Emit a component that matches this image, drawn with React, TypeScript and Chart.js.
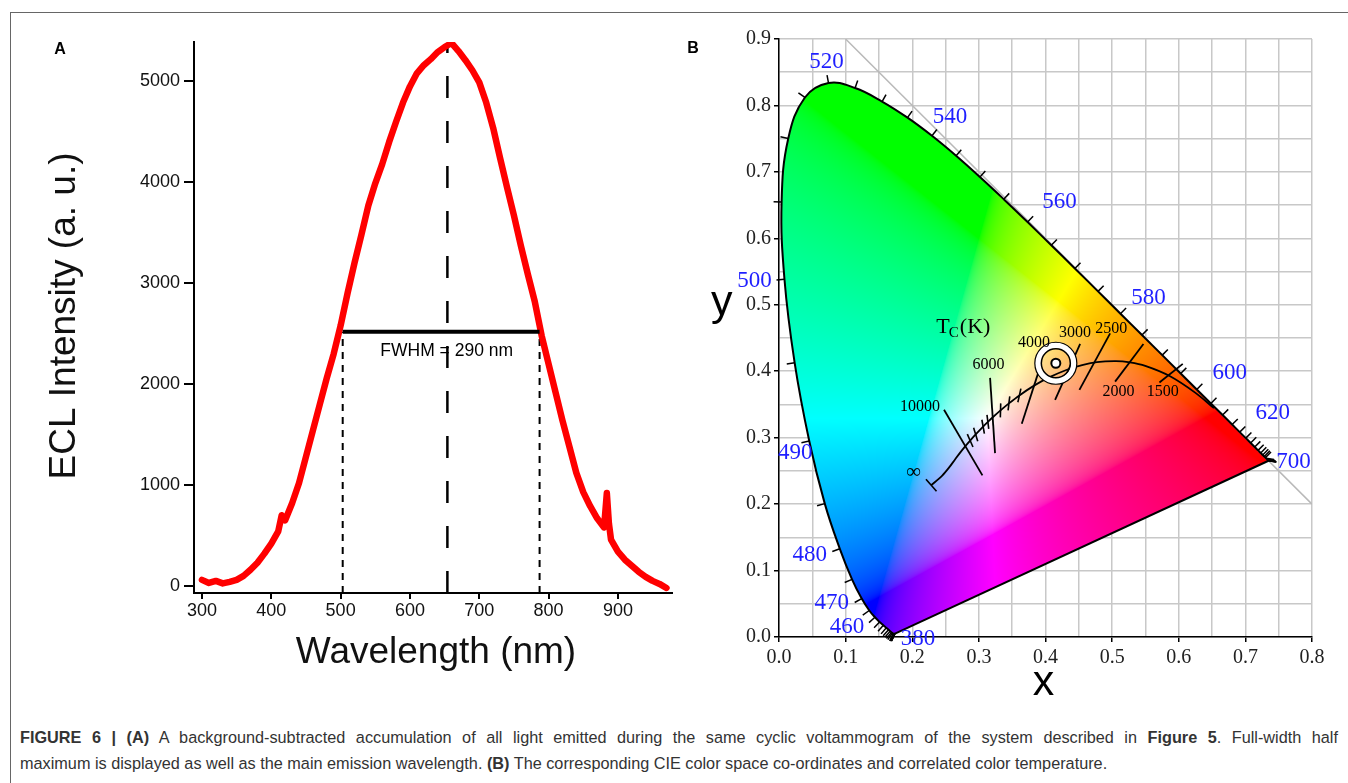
import React, { useEffect, useRef } from 'react';
import { Chart, registerables } from 'chart.js';

Chart.register(...registerables);

// ---------------- Panel A data ----------------
const wavelengthNm = [300, 310, 320, 330, 340, 350, 360, 370, 380, 390, 400, 410, 415, 420, 430, 440, 450, 460, 470, 480, 490, 500, 510, 520, 530, 540, 550, 560, 570, 580, 590, 600, 610, 620, 630, 640, 650, 660, 670, 680, 690, 700, 710, 720, 730, 740, 750, 760, 770, 780, 790, 800, 810, 820, 830, 840, 850, 860, 870, 880, 884, 887, 890, 900, 910, 920, 930, 940, 950, 960, 970];
const eclIntensity = [60, 30, 50, 25, 40, 60, 100, 160, 230, 320, 420, 540, 700, 650, 820, 1020, 1280, 1540, 1800, 2060, 2300, 2580, 2900, 3200, 3480, 3770, 3990, 4180, 4400, 4600, 4790, 4950, 5080, 5160, 5220, 5290, 5340, 5380, 5300, 5210, 5110, 4990, 4790, 4540, 4240, 3950, 3670, 3370, 3090, 2820, 2480, 2200, 1920, 1640, 1380, 1120, 930, 790, 670, 580, 920, 620, 460, 340, 260, 200, 140, 90, 50, 20, -20];
const aXTicks = [300, 400, 500, 600, 700, 800, 900];
const aYTicks = [0, 1000, 2000, 3000, 4000, 5000];
const fwhmBoundsNm = [503, 787];
const halfMaxValue = 2520;
const peakNm = 654;
const peakLineTop = 5356;
const fwhmLabel = 'FWHM = 290 nm';
const fwhmLabelAt = [653, 2330];
const aXRange = [288.5, 978];
const aYRange = [-70, 5390];
const aXTitle = 'Wavelength (nm)';
const aYTitle = 'ECL Intensity (a. u.)';

// ---------------- Panel B data ----------------
const locusNm = [380, 385, 390, 395, 400, 405, 410, 415, 420, 425, 430, 435, 440, 445, 450, 455, 460, 465, 470, 475, 480, 485, 490, 495, 500, 505, 510, 515, 520, 525, 530, 535, 540, 545, 550, 555, 560, 565, 570, 575, 580, 585, 590, 595, 600, 605, 610, 615, 620, 625, 630, 635, 640, 645, 650, 655, 660, 665, 670, 675, 680, 685, 690, 695, 700];
const locusX = [0.1741, 0.1740, 0.1738, 0.1736, 0.1733, 0.1730, 0.1726, 0.1721, 0.1714, 0.1703, 0.1689, 0.1669, 0.1644, 0.1611, 0.1566, 0.1510, 0.1440, 0.1355, 0.1241, 0.1096, 0.0913, 0.0687, 0.0454, 0.0235, 0.0082, 0.0039, 0.0139, 0.0389, 0.0743, 0.1142, 0.1547, 0.1929, 0.2296, 0.2658, 0.3016, 0.3373, 0.3731, 0.4087, 0.4441, 0.4788, 0.5125, 0.5448, 0.5752, 0.6029, 0.6270, 0.6482, 0.6658, 0.6801, 0.6915, 0.7006, 0.7079, 0.7140, 0.7190, 0.7230, 0.7260, 0.7283, 0.7300, 0.7311, 0.7320, 0.7327, 0.7334, 0.7340, 0.7344, 0.7346, 0.7347];
const locusY = [0.0050, 0.0050, 0.0049, 0.0049, 0.0048, 0.0048, 0.0048, 0.0048, 0.0051, 0.0058, 0.0069, 0.0086, 0.0109, 0.0138, 0.0177, 0.0227, 0.0297, 0.0399, 0.0578, 0.0868, 0.1327, 0.2007, 0.2950, 0.4127, 0.5384, 0.6548, 0.7502, 0.8120, 0.8338, 0.8262, 0.8059, 0.7816, 0.7543, 0.7243, 0.6923, 0.6589, 0.6245, 0.5896, 0.5547, 0.5202, 0.4866, 0.4544, 0.4242, 0.3965, 0.3725, 0.3514, 0.3340, 0.3197, 0.3083, 0.2993, 0.2920, 0.2859, 0.2809, 0.2770, 0.2740, 0.2717, 0.2700, 0.2689, 0.2680, 0.2673, 0.2666, 0.2660, 0.2656, 0.2654, 0.2653];
const locusLabelNm = [380, 460, 470, 480, 490, 500, 520, 540, 560, 580, 600, 620, 700];
// label placement (pixel offset of label centre from its locus point) – styling only
const locusLabelOffset = [[23, 5], [-28, 10], [-30, 4], [-30, 6], [-14, 12], [-30, 2], [-2, -21], [18, -19], [32, -20], [28, -16], [33, -17], [33, -19], [25, 1]];

const planckK = [1000, 1200, 1500, 1800, 2000, 2200, 2500, 2800, 3000, 3500, 4000, 4500, 5000, 5500, 6000, 6500, 7000, 8000, 9000, 10000, 12000, 15000, 20000, 30000, Infinity];
const planckX = [0.6528, 0.6251, 0.5857, 0.5497, 0.5267, 0.5056, 0.4770, 0.4523, 0.4369, 0.4053, 0.3805, 0.3608, 0.3451, 0.3325, 0.3221, 0.3135, 0.3064, 0.2952, 0.2869, 0.2807, 0.2719, 0.2637, 0.2560, 0.2450, 0.2285];
const planckY = [0.3444, 0.3674, 0.3931, 0.4081, 0.4133, 0.4152, 0.4137, 0.4086, 0.4041, 0.3907, 0.3768, 0.3636, 0.3516, 0.3411, 0.3318, 0.3237, 0.3166, 0.3048, 0.2956, 0.2884, 0.2775, 0.2665, 0.2560, 0.2430, 0.2285];

const isothermK = [10000, 6000, 4000, 3000, 2500, 2000, 1500];
const isoStartX = [0.2477, 0.3168, 0.3644, 0.4144, 0.4509, 0.5045, 0.5710];
const isoStartY = [0.3419, 0.3899, 0.3209, 0.3570, 0.3719, 0.3844, 0.3830];
const isoEndX = [0.3053, 0.3243, 0.3893, 0.4520, 0.4970, 0.5470, 0.6060];
const isoEndY = [0.2432, 0.2767, 0.3983, 0.4410, 0.4569, 0.4410, 0.4110];
const minorIsoK = [9000, 8000, 7000, 6500, 5500, 5000, 4500];

const cctLabelText = ['10000', '6000', '4000', '3000', '2500', '2000', '1500', '∞'];
const cctLabelX = [0.2117, 0.3143, 0.3829, 0.4444, 0.4985, 0.5095, 0.5761, 0.2017];
const cctLabelY = [0.3468, 0.4099, 0.4425, 0.4584, 0.4635, 0.3683, 0.3683, 0.2482];
const tcTitleAt = [0.2767, 0.4659];

const samplePoint = { x: 0.4155, y: 0.412 };
const bXRange = [0, 0.8];
const bYRange = [0, 0.9];
const bXTicks = [0, 0.05, 0.1, 0.15, 0.2, 0.25, 0.3, 0.35, 0.4, 0.45, 0.5, 0.55, 0.6, 0.65, 0.7, 0.75, 0.8];
const bYTicks = [0, 0.05, 0.1, 0.15, 0.2, 0.25, 0.3, 0.35, 0.4, 0.45, 0.5, 0.55, 0.6, 0.65, 0.7, 0.75, 0.8, 0.85, 0.9];
const gamutDiagonal = [{ x: 0.1, y: 0.9 }, { x: 0.8, y: 0.2 }];

const SANS = '"Liberation Sans", Arial, Helvetica, sans-serif';
const SERIF = '"Liberation Serif", "Times New Roman", Times, serif';

const A_W = 680, A_H = 700, A_AXIS_Y = 593;
const B_LEFT = 680, B_W = 668, B_H = 710;

function isMajor(v: number) {
  return Math.abs(v * 10 - Math.round(v * 10)) < 1e-6;
}

function gammaEnc(c: number) {
  return c <= 0.0031308 ? 12.92 * c : 1.055 * Math.pow(c, 1 / 2.4) - 0.055;
}

const panelAText = {
  id: 'panelAText',
  afterDraw(chart: any) {
    const { ctx, scales } = chart;
    ctx.save();
    ctx.fillStyle = '#111';
    ctx.font = `37px ${SANS}`;
    ctx.textAlign = 'center';
    ctx.textBaseline = 'alphabetic';
    ctx.fillText(aXTitle, 436, 663);
    ctx.save();
    ctx.translate(75, 316);
    ctx.rotate(-Math.PI / 2);
    ctx.fillText(aYTitle, 0, 0);
    ctx.restore();
    ctx.font = `17.5px ${SANS}`;
    ctx.textBaseline = 'middle';
    ctx.fillStyle = '#000';
    ctx.fillText(fwhmLabel, scales.x.getPixelForValue(fwhmLabelAt[0]), scales.y.getPixelForValue(fwhmLabelAt[1]));
    ctx.restore();
  },
};

function locusPath(ctx: CanvasRenderingContext2D, pts: any[]) {
  ctx.moveTo(pts[0].x, pts[0].y);
  for (let i = 1; i < pts.length; i++) {
    const p = pts[i - 1], c = pts[i];
    ctx.bezierCurveTo(p.cp2x ?? p.x, p.cp2y ?? p.y, c.cp1x ?? c.x, c.cp1y ?? c.y, c.x, c.y);
  }
  ctx.closePath();
}

const cieFill = {
  id: 'cieFill',
  beforeDatasetsDraw(chart: any) {
    const { ctx, chartArea: a, scales } = chart;
    const sx = scales.x, sy = scales.y;
    const L = Math.floor(a.left), T = Math.floor(a.top);
    const w = Math.ceil(a.right) - L, h = Math.ceil(a.bottom) - T;
    const off = document.createElement('canvas');
    off.width = w; off.height = h;
    const o = off.getContext('2d') as CanvasRenderingContext2D;
    const img = o.createImageData(w, h);
    const d = img.data;
    const xs: number[] = [];
    for (let i = 0; i < w; i++) xs.push(sx.getValueForPixel(L + i + 0.5));
    for (let j = 0; j < h; j++) {
      let cy = sy.getValueForPixel(T + j + 0.5);
      if (cy < 0.003) cy = 0.003;
      for (let i = 0; i < w; i++) {
        const cx = xs[i];
        const X = cx / cy, Y = 1, Z = (1 - cx - cy) / cy;
        let r = 3.2406 * X - 1.5372 * Y - 0.4986 * Z;
        let g = -0.9689 * X + 1.8758 * Y + 0.0415 * Z;
        let b = 0.0557 * X - 0.2040 * Y + 1.0570 * Z;
        r = Math.max(0, r); g = Math.max(0, g); b = Math.max(0, b);
        const M = Math.max(r, g, b) || 1;
        r /= M; g /= M; b /= M;
        const idx = (j * w + i) * 4;
        d[idx] = Math.round(255 * gammaEnc(r));
        d[idx + 1] = Math.round(255 * gammaEnc(g));
        d[idx + 2] = Math.round(255 * gammaEnc(b));
        d[idx + 3] = 255;
      }
    }
    o.putImageData(img, 0, 0);
    const pts = chart.getDatasetMeta(1).data;
    ctx.save();
    ctx.beginPath();
    locusPath(ctx, pts);
    ctx.clip();
    ctx.drawImage(off, L, T);
    ctx.restore();
  },
  afterDatasetsDraw(chart: any) {
    const { ctx, scales } = chart;
    const sx = scales.x, sy = scales.y;
    const P = locusX.map((lx, k) => ({ x: sx.getPixelForValue(lx), y: sy.getPixelForValue(locusY[k]) }));
    const C = { x: sx.getPixelForValue(0.33), y: sy.getPixelForValue(0.33) };
    const normal = (k: number) => {
      const p0 = P[Math.max(0, k - 1)], p1 = P[Math.min(P.length - 1, k + 1)];
      const tx = p1.x - p0.x, ty = p1.y - p0.y;
      let nx: number, ny: number;
      if (Math.hypot(tx, ty) < 2) { nx = P[k].x - C.x; ny = P[k].y - C.y; }
      else { nx = ty; ny = -tx; }
      const l = Math.hypot(nx, ny);
      nx /= l; ny /= l;
      if (nx * (P[k].x - C.x) + ny * (P[k].y - C.y) < 0) { nx = -nx; ny = -ny; }
      return { nx, ny };
    };
    ctx.save();
    // wavelength ticks
    ctx.strokeStyle = '#000';
    ctx.lineWidth = 1.5;
    P.forEach((p, k) => {
      const { nx, ny } = normal(k);
      ctx.beginPath();
      ctx.moveTo(p.x, p.y);
      ctx.lineTo(p.x + nx * 8, p.y + ny * 8);
      ctx.stroke();
    });
    // wavelength labels
    ctx.fillStyle = '#1f1fff';
    ctx.font = `23px ${SERIF}`;
    ctx.textBaseline = 'middle';
    ctx.textAlign = 'center';
    locusLabelNm.forEach((nm, i) => {
      const p = P[locusNm.indexOf(nm)];
      const [dx, dy] = locusLabelOffset[i];
      ctx.fillText(String(nm), p.x + dx, p.y + dy);
    });
    // minor isotherm ticks on the Planckian locus
    const isoDir = isothermK.map((_, i) => {
      let dx = sx.getPixelForValue(isoEndX[i]) - sx.getPixelForValue(isoStartX[i]);
      let dy = sy.getPixelForValue(isoEndY[i]) - sy.getPixelForValue(isoStartY[i]);
      if (dy > 0) { dx = -dx; dy = -dy; }
      const l = Math.hypot(dx, dy);
      return { dx: dx / l, dy: dy / l };
    });
    ctx.strokeStyle = '#000';
    ctx.lineWidth = 1.6;
    minorIsoK.forEach((K) => {
      const k = planckK.indexOf(K);
      const px = sx.getPixelForValue(planckX[k]), py = sy.getPixelForValue(planckY[k]);
      let hi = 0;
      for (let i = 0; i < isothermK.length - 1; i++) {
        if (K <= isothermK[i] && K >= isothermK[i + 1]) { hi = i; break; }
      }
      const t = (isothermK[hi] - K) / (isothermK[hi] - isothermK[hi + 1]);
      let dx = isoDir[hi].dx * (1 - t) + isoDir[hi + 1].dx * t;
      let dy = isoDir[hi].dy * (1 - t) + isoDir[hi + 1].dy * t;
      const l = Math.hypot(dx, dy); dx /= l; dy /= l;
      ctx.beginPath();
      ctx.moveTo(px - dx * 7, py - dy * 7);
      ctx.lineTo(px + dx * 7, py + dy * 7);
      ctx.stroke();
    });
    // end bar at infinity
    {
      const n = planckX.length;
      const ex = sx.getPixelForValue(planckX[n - 1]), ey = sy.getPixelForValue(planckY[n - 1]);
      const qx = sx.getPixelForValue(planckX[n - 2]), qy = sy.getPixelForValue(planckY[n - 2]);
      let tx = ex - qx, ty = ey - qy; const l = Math.hypot(tx, ty); tx /= l; ty /= l;
      ctx.beginPath();
      ctx.moveTo(ex - ty * 8, ey + tx * 8);
      ctx.lineTo(ex + ty * 8, ey - tx * 8);
      ctx.stroke();
    }
    // CCT labels
    ctx.fillStyle = '#000';
    ctx.textAlign = 'center';
    ctx.textBaseline = 'middle';
    cctLabelText.forEach((s, i) => {
      ctx.font = s === '∞' ? `21px ${SERIF}` : `16px ${SERIF}`;
      ctx.fillText(s, sx.getPixelForValue(cctLabelX[i]), sy.getPixelForValue(cctLabelY[i]));
    });
    // Tc(K)
    {
      const cx = sx.getPixelForValue(tcTitleAt[0]), cy = sy.getPixelForValue(tcTitleAt[1]);
      ctx.font = `22px ${SERIF}`;
      const wT = ctx.measureText('T').width, wK = ctx.measureText('(K)').width;
      ctx.font = `15px ${SERIF}`;
      const wC = ctx.measureText('C').width;
      const total = wT + wC + wK;
      const x0 = cx - total / 2;
      ctx.textAlign = 'left';
      ctx.font = `22px ${SERIF}`;
      ctx.fillText('T', x0, cy);
      ctx.font = `15px ${SERIF}`;
      ctx.fillText('C', x0 + wT - 1, cy + 6);
      ctx.font = `22px ${SERIF}`;
      ctx.fillText('(K)', x0 + wT + wC, cy);
    }
    ctx.restore();
  },
  afterDraw(chart: any) {
    const { ctx } = chart;
    ctx.save();
    ctx.fillStyle = '#000';
    ctx.font = `43px ${SANS}`;
    ctx.textAlign = 'center';
    ctx.textBaseline = 'alphabetic';
    ctx.fillText('y', 721.7 - B_LEFT, 315);
    ctx.fillText('x', 1043.5 - B_LEFT, 695);
    ctx.restore();
  },
};

function PanelA() {
  const ref = useRef<HTMLCanvasElement | null>(null);
  useEffect(() => {
    if (!ref.current) return;
    const spectrum = wavelengthNm.map((w, i) => ({ x: w, y: eclIntensity[i] }));
    const base = { pointRadius: 0, tension: 0, fill: false, borderColor: '#000' };
    const chart = new Chart(ref.current, {
      type: 'line',
      data: {
        datasets: [
          { ...base, data: [{ x: fwhmBoundsNm[0], y: halfMaxValue }, { x: fwhmBoundsNm[1], y: halfMaxValue }], borderWidth: 4, order: 0 },
          { ...base, data: spectrum, borderColor: '#ff0000', borderWidth: 6.5, borderJoinStyle: 'round', borderCapStyle: 'round', order: 1 },
          { ...base, data: [{ x: fwhmBoundsNm[0], y: aYRange[0] }, { x: fwhmBoundsNm[0], y: halfMaxValue }], borderWidth: 2, borderDash: [7, 6], order: 2 },
          { ...base, data: [{ x: fwhmBoundsNm[1], y: aYRange[0] }, { x: fwhmBoundsNm[1], y: halfMaxValue }], borderWidth: 2, borderDash: [7, 6], order: 2 },
          { ...base, data: [{ x: peakNm, y: aYRange[0] }, { x: peakNm, y: peakLineTop }], borderWidth: 2.5, borderDash: [22, 23], order: 3 },
        ] as any,
      },
      options: {
        responsive: false,
        animation: false,
        devicePixelRatio: 1,
        layout: { padding: { top: 42, right: 8, left: 0, bottom: 0 } },
        plugins: { legend: { display: false }, tooltip: { enabled: false } },
        scales: {
          x: {
            type: 'linear', min: aXRange[0], max: aXRange[1],
            afterFit: (s: any) => { s.height = A_H - A_AXIS_Y; },
            afterBuildTicks: (s: any) => { s.ticks = aXTicks.map((v) => ({ value: v })); },
            ticks: { autoSkip: false, maxRotation: 0, color: '#111', padding: 1, font: { family: SANS, size: 18 }, callback: (v: any) => String(v) },
            grid: { drawOnChartArea: false, drawTicks: true, tickLength: 6, color: '#000', lineWidth: 2 },
            border: { display: true, color: '#000', width: 2 },
          },
          y: {
            type: 'linear', min: aYRange[0], max: aYRange[1],
            afterFit: (s: any) => { s.width = 194; },
            afterBuildTicks: (s: any) => { s.ticks = aYTicks.map((v) => ({ value: v })); },
            ticks: { autoSkip: false, color: '#111', padding: 4, font: { family: SANS, size: 18 }, callback: (v: any) => String(v) },
            grid: { drawOnChartArea: false, drawTicks: true, tickLength: 10, color: '#000', lineWidth: 2 },
            border: { display: true, color: '#000', width: 2 },
          },
        },
      } as any,
      plugins: [panelAText],
    });
    return () => chart.destroy();
  }, []);
  return <canvas ref={ref} width={A_W} height={A_H} style={{ position: 'absolute', left: 0, top: 0, width: A_W, height: A_H }} />;
}

function PanelB() {
  const ref = useRef<HTMLCanvasElement | null>(null);
  useEffect(() => {
    if (!ref.current) return;
    const base = { pointRadius: 0, tension: 0, fill: false, borderColor: '#000' };
    const locus = locusX.map((x, i) => ({ x, y: locusY[i] }));
    const purpleLine = [locus[locus.length - 1], locus[0]];
    const planck = planckX.map((x, i) => ({ x, y: planckY[i] }));
    const isoSets = isothermK.map((_, i) => ({
      ...base, data: [{ x: isoStartX[i], y: isoStartY[i] }, { x: isoEndX[i], y: isoEndY[i] }], borderWidth: 1.8, order: 7,
    }));
    const pt = [samplePoint];
    const tickStyle = (c: any) => (c.tick && isMajor(c.tick.value) ? '#000' : 'rgba(0,0,0,0)');
    const chart = new Chart(ref.current, {
      type: 'line',
      data: {
        datasets: [
          { ...base, data: gamutDiagonal, borderColor: '#b9b9b9', borderWidth: 1.5, order: 10 },
          { ...base, data: locus, borderWidth: 2, tension: 0.4, order: 9 },
          { ...base, data: purpleLine, borderWidth: 2, order: 9 },
          { ...base, data: planck, borderWidth: 1.8, tension: 0.3, order: 8 },
          ...isoSets,
          { ...base, data: pt, showLine: false, pointRadius: 18, pointBorderWidth: 6, pointBorderColor: '#fff', pointBackgroundColor: 'rgba(0,0,0,0)', order: -1 },
          { ...base, data: pt, showLine: false, pointRadius: 21, pointBorderWidth: 1.2, pointBorderColor: '#000', pointBackgroundColor: 'rgba(0,0,0,0)', order: -2 },
          { ...base, data: pt, showLine: false, pointRadius: 14.5, pointBorderWidth: 1.5, pointBorderColor: '#000', pointBackgroundColor: 'rgba(0,0,0,0)', order: -3 },
          { ...base, data: pt, showLine: false, pointRadius: 4.5, pointBorderWidth: 2, pointBorderColor: '#000', pointBackgroundColor: '#fff', order: -4 },
        ] as any,
      },
      options: {
        responsive: false,
        animation: false,
        devicePixelRatio: 1,
        layout: { padding: { top: 39, right: B_W - (1312 - B_LEFT), left: 0, bottom: 0 } },
        plugins: { legend: { display: false }, tooltip: { enabled: false } },
        scales: {
          x: {
            type: 'linear', min: bXRange[0], max: bXRange[1],
            afterFit: (s: any) => { s.height = B_H - 637; },
            afterBuildTicks: (s: any) => { s.ticks = bXTicks.map((v) => ({ value: v })); },
            ticks: {
              autoSkip: false, maxRotation: 0, color: '#222', padding: 4,
              font: { family: SERIF, size: 20 },
              callback: (v: any) => (isMajor(Number(v)) ? Number(v).toFixed(1) : ''),
            },
            grid: { color: '#c8c8c8', lineWidth: 1.5, tickLength: 5, tickColor: tickStyle, tickWidth: 1.5 },
            border: { display: true, color: '#000', width: 1.5 },
          },
          y: {
            type: 'linear', min: bYRange[0], max: bYRange[1],
            afterFit: (s: any) => { s.width = 779 - B_LEFT; },
            afterBuildTicks: (s: any) => { s.ticks = bYTicks.map((v) => ({ value: v })); },
            ticks: {
              autoSkip: false, color: '#222', padding: 3,
              font: { family: SERIF, size: 20 },
              callback: (v: any) => (isMajor(Number(v)) ? Number(v).toFixed(1) : ''),
            },
            grid: { color: '#c8c8c8', lineWidth: 1.5, tickLength: 5, tickColor: tickStyle, tickWidth: 1.5 },
            border: { display: true, color: '#000', width: 1.5 },
          },
        },
      } as any,
      plugins: [cieFill],
    });
    return () => chart.destroy();
  }, []);
  return <canvas ref={ref} width={B_W} height={B_H} style={{ position: 'absolute', left: B_LEFT, top: 0, width: B_W, height: B_H }} />;
}

export default function App() {
  const cap: React.CSSProperties = {
    position: 'absolute', left: 20, font: `16.25px ${SANS}`, color: '#333', lineHeight: '22px',
  };
  const letter: React.CSSProperties = {
    position: 'absolute', font: `bold 16px ${SANS}`, color: '#000', transform: 'translate(-50%, -50%)',
  };
  return (
    <div style={{ position: 'absolute', left: 0, top: 0, width: 1348, height: 783, background: '#fff', overflow: 'hidden' }}>
      <div style={{ position: 'absolute', left: 10, top: 12, width: 1340, height: 780, borderTop: '1.5px solid #666', borderLeft: '1.5px solid #666' }} />
      <PanelA />
      <PanelB />
      <div style={{ ...letter, left: 60, top: 49 }}>A</div>
      <div style={{ ...letter, left: 693, top: 48 }}>B</div>
      <div style={{ ...cap, top: 726, width: 1318, textAlign: 'justify', textAlignLast: 'justify' }}>
        <b>FIGURE 6 | (A)</b> A background-subtracted accumulation of all light emitted during the same cyclic voltammogram of the system described in <b>Figure 5</b>. Full-width half
      </div>
      <div style={{ ...cap, top: 752, whiteSpace: 'nowrap' }}>
        maximum is displayed as well as the main emission wavelength. <b>(B)</b> The corresponding CIE color space co-ordinates and correlated color temperature.
      </div>
    </div>
  );
}
